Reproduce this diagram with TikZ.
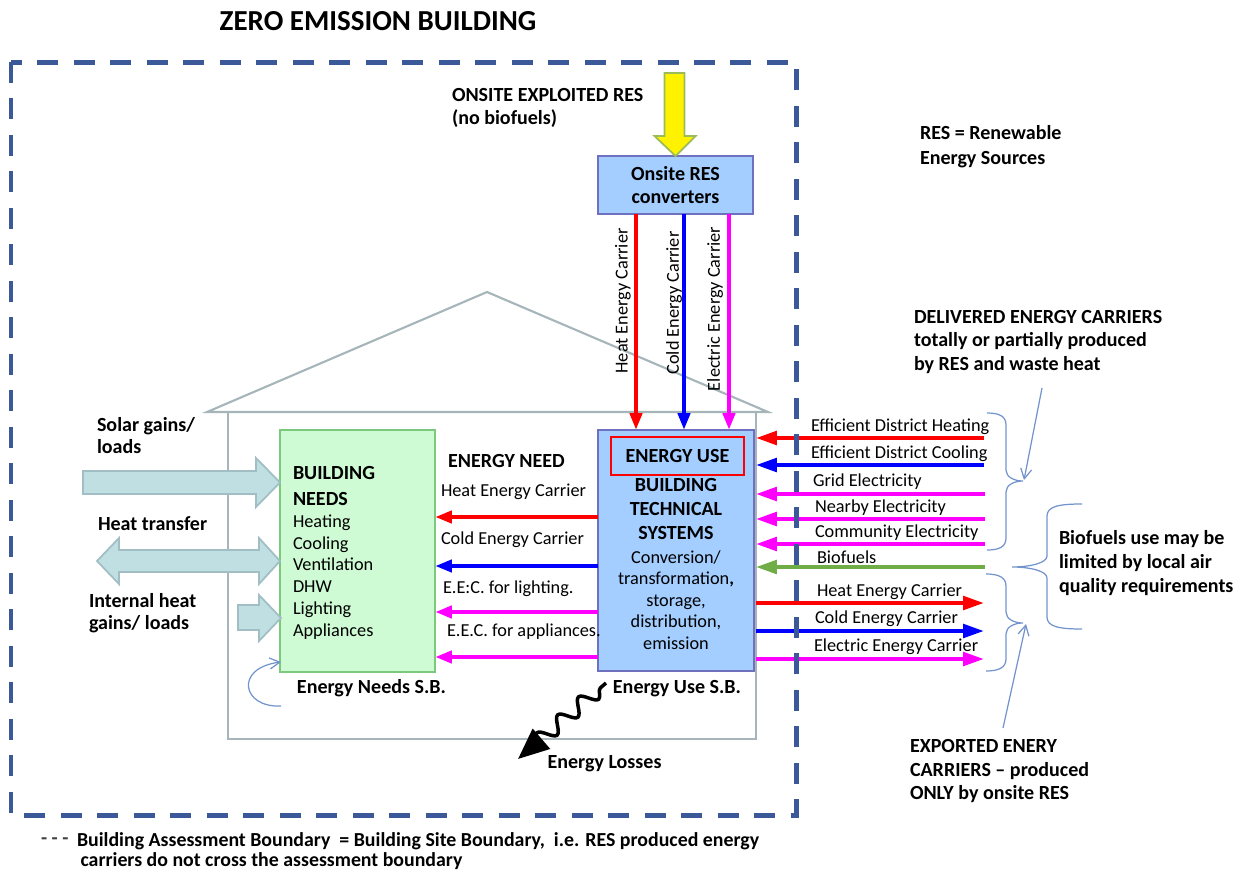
\documentclass[tikz,border=0pt]{standalone}
\usepackage{fontspec}
\setmainfont{Carlito}
\usetikzlibrary{arrows.meta,decorations.pathmorphing}

\definecolor{bndblue}{RGB}{59,89,152}
\definecolor{boxblue}{RGB}{163,206,255}
\definecolor{boxblueline}{RGB}{112,112,192}
\definecolor{boxgreen}{RGB}{206,250,212}
\definecolor{boxgreenline}{RGB}{124,200,124}
\definecolor{wallgray}{RGB}{165,181,186}
\definecolor{gainfill}{RGB}{192,223,227}
\definecolor{gainline}{RGB}{160,190,196}
\definecolor{yellowline}{RGB}{155,187,89}
\definecolor{biogreen}{RGB}{112,173,71}
\definecolor{notecol}{RGB}{114,147,203}
\definecolor{heatred}{RGB}{255,0,0}
\definecolor{coldblue}{RGB}{0,0,255}
\definecolor{elecpink}{RGB}{255,0,255}

\begin{document}
\begin{tikzpicture}[x=0.02cm, y=-0.02cm,
        every node/.style={inner sep=0pt, outer sep=0pt},
        titletext/.style={font=\bfseries\fontsize{16.5}{20}\selectfont},
        bigtext/.style={font=\bfseries\fontsize{11.4}{13.6}\selectfont},
        smalltext/.style={font=\fontsize{10.4}{12.2}\selectfont},
        bluebox/.style={draw=boxblueline, fill=boxblue, line width=1pt},
        greenbox/.style={draw=boxgreenline, fill=boxgreen, line width=1pt},
        redframe/.style={draw=heatred, line width=0.8pt},
        wall/.style={draw=wallgray, line width=1.2pt},
        gainarrow/.style={draw=gainline, fill=gainfill, line width=1pt},
        sunarrow/.style={draw=yellowline, fill=yellow, line width=1pt},
        carrier/.style={line width=0.09cm, -{Triangle[length=0.34cm,width=0.24cm]}},
        outside/.style={line width=0.08cm, -{Triangle[length=0.42cm,width=0.27cm]}},
        notebrace/.style={draw=notecol, line width=0.7pt},
        pointer/.style={draw=notecol, line width=0.7pt, -{Straight Barb[length=0.2cm,width=0.22cm]}},
        boundary/.style={draw=bndblue, line width=0.1cm, dash pattern=on 0.42cm off 0.31cm},
        losses/.style={line width=0.07cm, decorate,
            decoration={snake, amplitude=0.15cm, segment length=0.55cm, pre length=0.15cm, post length=0.35cm},
            -{Triangle[length=0.62cm,width=0.52cm]}}]
        \useasboundingbox (0,0) rectangle (1241,872);

        \node[titletext] (title) at (378,21) {ZERO EMISSION BUILDING};

        \draw[wall] (207,412) -- (487,292) -- (768,412) -- cycle;
        \node[wall, minimum width=10.56cm, minimum height=6.54cm] (house) at (492,575.5) {};

        \node[bluebox, bigtext, align=center, minimum width=3.1cm, minimum height=1.16cm] (ons) at (675.5,185) {Onsite RES\\converters};
        \draw[sunarrow] (ons.north) -- ++(-21,-20) -- ++(10,0) -- ++(0,-63) -- ++(20,0) -- ++(0,63) -- ++(11,0) -- cycle;
        \node[anchor=west, align=left, font=\bfseries\fontsize{11.4}{13}\selectfont] (onsitelab) at (452,108) {ONSITE EXPLOITED RES\\(no biofuels)};

        \node[greenbox, minimum width=3.1cm, minimum height=4.84cm] (need) at (357.5,551) {};
        \node[anchor=west, align=left, font=\bfseries\fontsize{11.4}{14.7}\selectfont] (needhead) at (293,486) {BUILDING\\NEEDS};
        \node[anchor=west, align=left, font=\fontsize{10.4}{12.4}\selectfont] (needlist) at (293,577) {Heating\\Cooling\\Ventilation\\DHW\\Lighting\\Appliances};

        \node[bluebox, minimum width=3.12cm, minimum height=4.82cm] (use) at (676,550.5) {};
        \node[redframe, bigtext, minimum width=2.66cm, minimum height=0.76cm] (usehead) at (677.5,456) {ENERGY USE};
        \node[bigtext, align=center] (usetitle) at (676,509) {BUILDING\\TECHNICAL\\SYSTEMS};
        \node[smalltext, align=center] (usetext) at (676,600) {Conversion/\\transformation\textbf{,}\\storage,\\distribution,\\emission};

        \coordinate (vheat) at (636,0);
        \coordinate (vcold) at (684,0);
        \coordinate (velec) at (729,0);
        \draw[carrier, heatred] (ons.south -| vheat) -- (use.north -| vheat);
        \draw[carrier, coldblue] (ons.south -| vcold) -- (use.north -| vcold);
        \draw[carrier, elecpink] (ons.south -| velec) -- (use.north -| velec);
        \node[smalltext, rotate=90] (vheatlab) at (623,301) {Heat Energy Carrier};
        \node[smalltext, rotate=90] (vcoldlab) at (674,303) {Cold Energy Carrier};
        \node[smalltext, rotate=90] (veleclab) at (715,309) {Electric Energy Carrier};

        \node[bigtext] (needlab) at (506.5,461) {ENERGY NEED};
        \coordinate (iheat) at (0,517);
        \coordinate (icold) at (0,566);
        \coordinate (ilight) at (0,612);
        \coordinate (iappl) at (0,657);
        \draw[carrier, heatred] (use.west |- iheat) -- (need.east |- iheat);
        \draw[carrier, coldblue] (use.west |- icold) -- (need.east |- icold);
        \draw[carrier, elecpink] (use.west |- ilight) -- (need.east |- ilight);
        \draw[carrier, elecpink] (use.west |- iappl) -- (need.east |- iappl);
        \node[smalltext, anchor=west] (iheatlab) at (441,492) {Heat Energy Carrier};
        \node[smalltext, anchor=west] (icoldlab) at (441,540) {Cold Energy Carrier};
        \node[smalltext, anchor=west] (ilightlab) at (443,589) {E.E:C. for lighting.};
        \node[smalltext, anchor=west] (iappllab) at (447,632) {E.E.C. for appliances.};

        \draw[gainarrow] (280,482.5) -- (256,458) -- (256,471) -- (83,471) -- (83,494) -- (256,494) -- (256,507) -- cycle;
        \draw[gainarrow] (280,561) -- (259,538) -- (259,550) -- (119,550) -- (119,538) -- (97,561) -- (119,584) -- (119,572) -- (259,572) -- (259,584) -- cycle;
        \draw[gainarrow] (281,618) -- (259,595) -- (259,605) -- (238,605) -- (238,630) -- (259,630) -- (259,641) -- cycle;
        \node[anchor=west, align=left, font=\bfseries\fontsize{11.4}{12.5}\selectfont] (solarlab) at (97,436) {Solar gains/\\loads};
        \node[bigtext, anchor=west] (heatlab) at (98,524) {Heat transfer};
        \node[anchor=west, align=left, font=\bfseries\fontsize{11.4}{12.5}\selectfont] (intlab) at (89,613) {Internal heat\\gains/ loads};

        \node[bigtext] (needsb) at (371.5,688) {Energy Needs S.B.};
        \coordinate (sbfrom) at (281,706);
        \coordinate (sbto) at (281,662);
        \draw[pointer] (sbfrom) .. controls (242,708) and (234,668) .. (sbto);
        \node[bigtext] (usesb) at (677,689) {Energy Use S.B.};
        \node[bigtext] (losslab) at (604.5,764) {Energy Losses};
        \coordinate (lossfrom) at (606,683);
        \coordinate (lossto) at (518,759);
        \draw[losses] (lossfrom) -- (lossto);

        \coordinate (dheat) at (984,438);
        \coordinate (dcool) at (984,465);
        \coordinate (dgrid) at (985,494);
        \coordinate (dnear) at (985,519);
        \coordinate (dcomm) at (985,544);
        \coordinate (dbio) at (985,567);
        \coordinate (xheat) at (984,603);
        \coordinate (xcold) at (984,631);
        \coordinate (xelec) at (984,659);
        \draw[outside, heatred] (dheat) -- (dheat -| house.east);
        \draw[outside, coldblue] (dcool) -- (dcool -| house.east);
        \draw[outside, elecpink] (dgrid) -- (dgrid -| house.east);
        \draw[outside, elecpink] (dnear) -- (dnear -| house.east);
        \draw[outside, elecpink] (dcomm) -- (dcomm -| house.east);
        \draw[outside, biogreen] (dbio) -- (dbio -| house.east);
        \draw[outside, heatred] (xheat -| house.east) -- (xheat);
        \draw[outside, coldblue] (xcold -| house.east) -- (xcold);
        \draw[outside, elecpink] (xelec -| house.east) -- (xelec);
        \node[smalltext, anchor=west] (dheatlab) at (811,427) {Efficient District Heating};
        \node[smalltext, anchor=west] (dcoollab) at (811,454) {Efficient District Cooling};
        \node[smalltext, anchor=west] (dgridlab) at (813,482) {Grid Electricity};
        \node[smalltext, anchor=west] (dnearlab) at (815,508) {Nearby Electricity};
        \node[smalltext, anchor=west] (dcommlab) at (815,533) {Community Electricity};
        \node[smalltext, anchor=west] (dbiolab) at (817,557) {Biofuels};
        \node[smalltext, anchor=west] (xheatlab) at (817,592) {Heat Energy Carrier};
        \node[smalltext, anchor=west] (xcoldlab) at (815,619) {Cold Energy Carrier};
        \node[smalltext, anchor=west] (xeleclab) at (814,647) {Electric Energy Carrier};

        \draw[notebrace] (987,413) .. controls (999,413) and (1006,416) .. (1006,425) -- (1006,470) .. controls (1006,477) and (1014,481) .. (1023,481) .. controls (1014,481) and (1006,485) .. (1006,492) -- (1006,538) .. controls (1006,547) and (999,550) .. (987,550);
        \draw[notebrace] (986,574) .. controls (998,574) and (1006,577) .. (1006,586) -- (1006,612) .. controls (1006,619) and (1014,623) .. (1023,623) .. controls (1014,623) and (1006,627) .. (1006,634) -- (1006,659) .. controls (1006,668) and (998,671) .. (986,671);
        \draw[notebrace] (1082,504) .. controls (1060,504) and (1047,506) .. (1047,516) -- (1047,556) .. controls (1047,563) and (1030,567) .. (1012,567) .. controls (1030,567) and (1047,571) .. (1047,578) -- (1047,617) .. controls (1047,627) and (1060,629) .. (1082,629);

        \node[anchor=west, align=left, font=\bfseries\fontsize{11.4}{14.2}\selectfont] (reslab) at (920,147) {RES = Renewable\\Energy Sources};
        \node[bigtext, anchor=west, align=left] (delivlab) at (914,342) {DELIVERED ENERGY CARRIERS\\totally or partially produced\\by RES and waste heat};
        \node[bigtext, anchor=west, align=left] (biolab) at (1059,563) {Biofuels use may be\\limited by local air\\quality requirements};
        \node[bigtext, anchor=west, align=left] (exportlab) at (910,771) {EXPORTED ENERY\\CARRIERS -- produced\\ONLY by onsite RES};
        \coordinate (delivfrom) at (1042,388);
        \coordinate (delivto) at (1024,480);
        \coordinate (exportfrom) at (1003,728);
        \coordinate (exportto) at (1026,624);
        \draw[pointer] (delivfrom) -- (delivto);
        \draw[pointer] (exportfrom) -- (exportto);

        \node[bigtext, anchor=west, text=darkgray] (notedash) at (41,841) {- - -};
        \node[anchor=west, align=left, font=\bfseries\fontsize{11.3}{11.4}\selectfont] (note) at (77,851) {Building Assessment Boundary \ = Building Site Boundary, \ i.e. RES produced energy\\\hspace{2pt}carriers do not cross the assessment boundary};

        \draw[boundary] (11,62) rectangle (796,815);
    \end{tikzpicture}
\end{document}
